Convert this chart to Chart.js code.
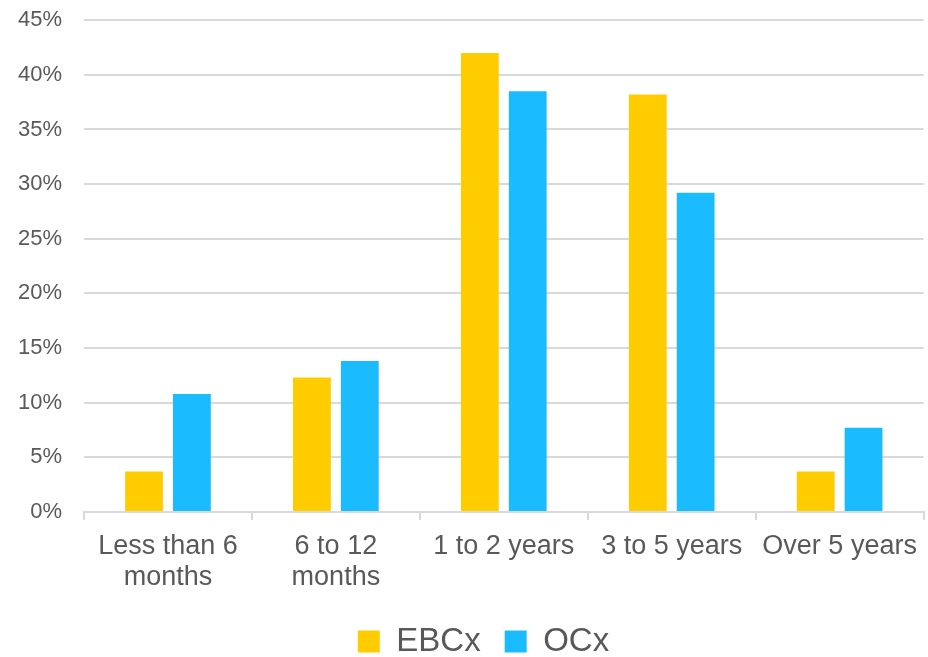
<!DOCTYPE html>
<html>
<head>
<meta charset="utf-8">
<script src="https://cdn.jsdelivr.net/npm/chart.js@4"></script>
<style>
  html, body { margin: 0; padding: 0; background: #fff; }
  #wrap { width: 928px; height: 657px; }
</style>
</head>
<body>
<div id="wrap"><canvas id="tenureChart" width="928" height="657"></canvas></div>
<script>
const categories = [
  ["Less than 6", "months"],
  ["6 to 12", "months"],
  "1 to 2 years",
  "3 to 5 years",
  "Over 5 years",
];
const ebcxValues = [3.7, 12.3, 42.0, 38.2, 3.7];
const ocxValues = [10.8, 13.8, 38.5, 29.2, 7.7];
const yTicks = [0, 5, 10, 15, 20, 25, 30, 35, 40, 45];

const textColor = "#595959";
const gridColor = "#d9d9d9";
const fontFamily = "'Liberation Sans', Arial, sans-serif";

// tighten the legend box and nudge it right of the canvas centre
const legendTweak = {
  id: "legendTweak",
  beforeLayout(chart) {
    const lg = chart.legend;
    if (lg && !lg._trimmed) {
      const fit = lg.fit.bind(lg);
      lg.fit = function () {
        fit();
        this.height -= 14;
      };
      lg._trimmed = true;
    }
  },
  afterLayout(chart) {
    const lg = chart.legend;
    if (!lg) return;
    lg.left += 40;
    lg.top -= 3;
  },
};

new Chart(document.getElementById("tenureChart"), {
  type: "bar",
  data: {
    labels: categories,
    datasets: [
      {
        label: "EBCx",
        data: ebcxValues,
        backgroundColor: "#ffcc00",
        borderWidth: 0,
        categoryPercentage: 0.57,
        barPercentage: 0.79,
      },
      {
        label: "OCx",
        data: ocxValues,
        backgroundColor: "#1bbcff",
        borderWidth: 0,
        categoryPercentage: 0.57,
        barPercentage: 0.79,
      },
    ],
  },
  plugins: [legendTweak],
  options: {
    responsive: false,
    animation: false,
    layout: { padding: { top: 0, right: 1, left: 0, bottom: 0 } },
    plugins: {
      tooltip: { enabled: false },
      legend: {
        position: "bottom",
        labels: {
          color: textColor,
          font: { family: fontFamily, size: 33 },
          boxWidth: 22,
          boxHeight: 22,
          padding: 24,
        },
      },
    },
    scales: {
      x: {
        grid: {
          offset: true,
          drawOnChartArea: false,
          drawTicks: true,
          tickLength: 8,
          color: gridColor,
          lineWidth: 2,
        },
        border: { display: true, color: gridColor, width: 2 },
        ticks: {
          color: textColor,
          font: { family: fontFamily, size: 27, lineHeight: 1.15 },
          padding: 11,
          maxRotation: 0,
          autoSkip: false,
        },
      },
      y: {
        min: 0,
        max: 45,
        afterFit: (scale) => { scale.width = 84; },
        afterBuildTicks: (scale) => {
          scale.ticks = yTicks.map((v) => ({ value: v }));
        },
        grid: {
          color: gridColor,
          lineWidth: 2,
          drawTicks: true,
          tickLength: 15,
          tickColor: "rgba(0,0,0,0)",
        },
        border: { display: false },
        ticks: {
          color: textColor,
          font: { family: fontFamily, size: 22 },
          padding: 7,
          callback: (v) => v + "%",
        },
      },
    },
  },
});
</script>
</body>
</html>
